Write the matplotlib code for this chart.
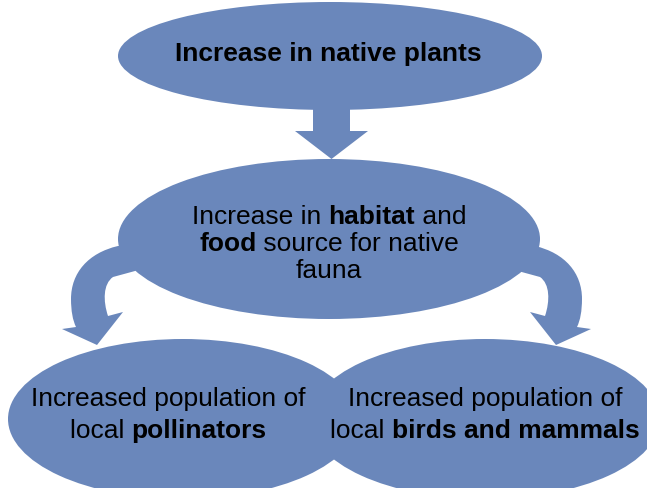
import matplotlib
matplotlib.use('Agg')
import matplotlib.pyplot as plt
from matplotlib.patches import Ellipse, Polygon, PathPatch
from matplotlib.path import Path
from matplotlib.font_manager import FontProperties

BLUE = '#6A87BB'
FONT = 'Liberation Sans'

# text of each box, as lines of (text, bold) pieces
top_label = [[("Increase in native plants", True)]]
middle_label = [
    [("Increase in ", False), ("habitat", True), (" and", False)],
    [("food", True), (" source for native", False)],
    [("fauna", False)],
]
left_label = [
    [("Increased population of", False)],
    [("local ", False), ("pollinators", True)],
]
right_label = [
    [("Increased population of", False)],
    [("local ", False), ("birds and mammals", True)],
]

fig = plt.figure(figsize=(6.47, 4.89), dpi=100)
ax = fig.add_axes([0, 0, 1, 1])
ax.set_xlim(0, 647)
ax.set_ylim(489, 0)
ax.axis('off')

# boxes
for (cx, cy), w, h in [((330, 57), 424, 108),
                       ((329, 240), 422, 160),
                       ((183, 420), 350, 160),
                       ((485, 420), 350, 160)]:
    ax.add_patch(Ellipse((cx, cy), w, h, facecolor=BLUE, edgecolor='none'))

# straight arrow between top and middle
ax.add_patch(Polygon([(313, 100), (350, 100), (350, 132), (368, 132),
                      (331.5, 160), (295, 132), (313, 132)],
                     closed=True, facecolor=BLUE, edgecolor='none'))

# curved arrows, the right one mirrors the left one
left_arrow = [
    (Path.MOVETO, (140, 246)),
    (Path.LINETO, (118, 247)),
    (Path.CURVE4, (88, 254)), (Path.CURVE4, (71, 274)), (Path.CURVE4, (71, 300)),
    (Path.CURVE3, (71, 318)), (Path.CURVE3, (76, 328)),
    (Path.LINETO, (62, 330)),
    (Path.LINETO, (97, 346)),
    (Path.LINETO, (123, 313)),
    (Path.LINETO, (108, 317)),
    (Path.CURVE4, (103, 302)), (Path.CURVE4, (103, 285)), (Path.CURVE4, (113, 278)),
    (Path.LINETO, (135, 272)),
    (Path.LINETO, (150, 262)),
    (Path.CLOSEPOLY, (140, 246)),
]
for mirror in (False, True):
    codes = [c for c, _ in left_arrow]
    verts = [((653 - x) if mirror else x, y) for _, (x, y) in left_arrow]
    ax.add_patch(PathPatch(Path(verts, codes), facecolor=BLUE, edgecolor='none'))

renderer = fig.canvas.get_renderer()


def piece_width(text, bold, size):
    prop = FontProperties(family=FONT, weight='bold' if bold else 'normal', size=size)
    full = renderer.get_text_width_height_descent('|' + text + '|', prop, ismath=False)[0]
    bars = renderer.get_text_width_height_descent('||', prop, ismath=False)[0]
    return full - bars


def draw_lines(lines, cx, baselines, size):
    for line, base in zip(lines, baselines):
        widths = [piece_width(t, b, size) for t, b in line]
        x = cx - sum(widths) / 2
        for (t, b), w in zip(line, widths):
            ax.text(x, base, t, fontsize=size, family=FONT,
                    fontweight='bold' if b else 'normal',
                    ha='left', va='baseline', color='black')
            x += w


draw_lines(top_label, 328, [61], 19)
draw_lines(middle_label, 329, [224, 251, 278], 19)
draw_lines(left_label, 168, [406, 438], 19)
draw_lines(right_label, 485, [406, 438], 19)

fig.savefig('out.png', dpi=100)
